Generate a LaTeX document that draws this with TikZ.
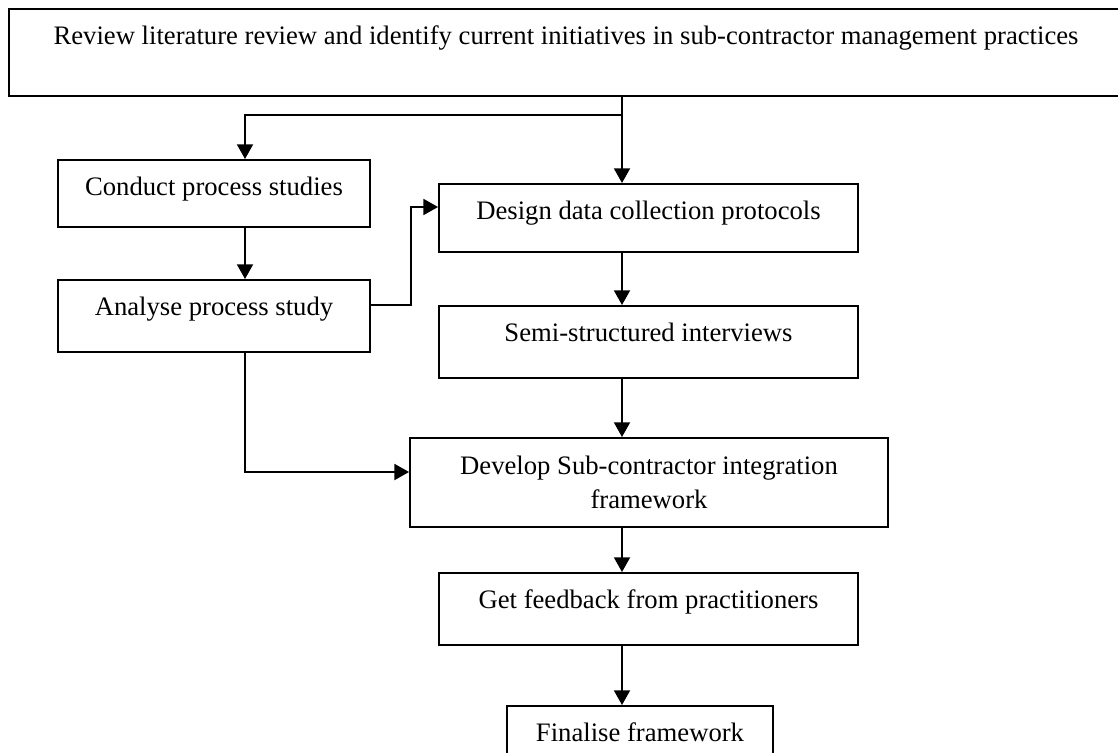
\documentclass[tikz,border=0pt]{standalone}
\usepackage{fontspec}
\setmainfont{Liberation Serif}
\usetikzlibrary{arrows.meta}

\begin{document}
\begin{tikzpicture}[x=0.75pt, y=-0.75pt,
  box/.style={draw, line width=1.4pt, anchor=north, inner sep=0pt,
    text height=26.3pt, font=\fontsize{20pt}{25.5pt}\selectfont},
  link/.style={line width=1.4pt, -{Triangle[length=11pt, width=12pt]}}]

  \useasboundingbox (0,0) rectangle (1118,753);

  % --- boxes ---
  \node[box, minimum width=1114*0.75pt, text depth=39pt] (review) at (566,8)
    {Review literature review and identify current initiatives in sub-contractor management practices};
  \node[box, minimum width=312*0.75pt, text depth=24pt] (conduct) at (214,159) {Conduct process studies};
  \node[box, minimum width=312*0.75pt, text depth=27.5pt] (analyse) at (214,279) {Analyse process study};
  \node[box, minimum width=419*0.75pt, text depth=25pt] (design) at (648.5,183) {Design data collection protocols};
  \node[box, minimum width=419*0.75pt, text depth=28pt] (semi) at (648.5,305) {Semi-structured interviews};
  \node[draw, line width=1.4pt, anchor=north, align=center, inner sep=0pt,
    minimum width=478*0.75pt, minimum height=89*0.75pt,
    font=\fontsize{20pt}{25.5pt}\selectfont] (develop) at (649,437)
    {Develop Sub-contractor integration\\framework};
  \node[box, minimum width=419*0.75pt, text depth=27.5pt] (feedback) at (648.5,572) {Get feedback from practitioners};
  \node[box, minimum width=266*0.75pt, text depth=24pt] (finalise) at (640,705) {Finalise framework};

  % --- arrow columns and bends ---
  \coordinate (lcol) at (245,0);
  \coordinate (rcol) at (622,0);
  \coordinate (split) at (622,115);
  \coordinate (jog) at (411,305);
  \coordinate (jogtop) at (411,207);
  \coordinate (lowjog) at (245,472);

  % --- connectors ---
  \draw[link] (review.south -| rcol) -- (design.north -| rcol);
  \draw[link] (split) -| (conduct.north -| lcol);
  \draw[link] (conduct.south -| lcol) -- (analyse.north -| lcol);
  \draw[link] (analyse.east |- jog) -- (jog) -- (jogtop) -- (jogtop -| design.west);
  \draw[link] (design.south -| rcol) -- (semi.north -| rcol);
  \draw[link] (semi.south -| rcol) -- (develop.north -| rcol);
  \draw[link] (analyse.south -| lcol) -- (lowjog) -- (lowjog -| develop.west);
  \draw[link] (develop.south -| rcol) -- (feedback.north -| rcol);
  \draw[link] (feedback.south -| rcol) -- (finalise.north -| rcol);

\end{tikzpicture}
\end{document}
